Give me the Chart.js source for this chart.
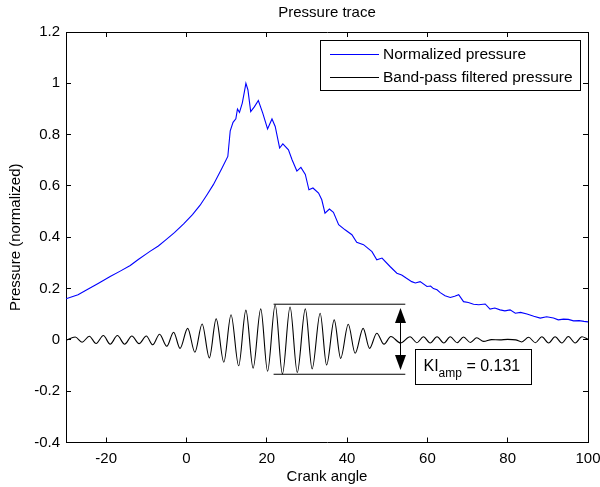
<!DOCTYPE html>
<html><head><meta charset="utf-8">
<script src="https://cdn.jsdelivr.net/npm/chart.js@4/dist/chart.umd.min.js"></script>
<style>html,body{margin:0;padding:0;background:#fff;}</style>
</head><body>
<canvas id="c" width="600" height="487"></canvas>
<script>
const chartTitle = 'Pressure trace';
const xLabel = 'Crank angle';
const yLabel = 'Pressure (normalized)';
const seriesNames = ['Normalized pressure', 'Band-pass filtered pressure'];
const xTicks = [-20, 0, 20, 40, 60, 80, 100];
const xTickLabels = ['-20', '0', '20', '40', '60', '80', '100'];
const yTicks = [-0.4, -0.2, 0, 0.2, 0.4, 0.6, 0.8, 1, 1.2];
const yTickLabels = ['-0.4', '-0.2', '0', '0.2', '0.4', '0.6', '0.8', '1', '1.2'];

const pressureAngle = [-30,-27,-24.8,-22,-19,-16.5,-14,-12,-9.9,-9,
  -7,-5.3,-3,-0.7,1.5,3.4,5,6.7,8.8,10.3,
  10.9,11.6,12.3,12.7,13.2,13.9,14.4,14.8,15.3,16.0,
  16.9,17.9,19.0,20.2,21.3,22.1,23.2,24.0,25.4,26.3,
  27.5,28.5,29.6,30.5,31.5,32.9,33.7,34.5,35.6,36.6,
  37.9,39.5,41.2,42.4,44.1,46.2,47.4,48.7,50.7,52.4,
  53.6,54.8,56.1,57.0,58.2,59.9,60.8,61.5,62.4,63.2,
  64.4,65.7,66.8,67.8,69.0,70.2,71.5,72.8,74.4,75.6,
  76.8,78.1,79.3,80.6,81.9,83.2,84.8,86.5,88.1,89.7,
  91.4,92.6,93.9,95.1,96.4,97.8,99.0,100];
const pressureValue = [0.160,0.176,0.195,0.220,0.247,0.268,0.290,0.313,0.336,0.346,
  0.366,0.388,0.418,0.452,0.488,0.525,0.563,0.605,0.668,0.715,
  0.815,0.848,0.862,0.900,0.887,0.923,0.965,1.000,0.975,0.890,
  0.908,0.933,0.884,0.822,0.861,0.832,0.748,0.764,0.741,0.702,
  0.658,0.672,0.645,0.585,0.592,0.572,0.546,0.494,0.510,0.497,
  0.449,0.429,0.410,0.380,0.371,0.344,0.312,0.319,0.286,0.260,
  0.253,0.240,0.227,0.222,0.227,0.208,0.210,0.200,0.195,0.184,
  0.172,0.165,0.170,0.176,0.149,0.146,0.139,0.137,0.140,0.120,
  0.124,0.117,0.113,0.117,0.104,0.107,0.101,0.092,0.085,0.090,
  0.085,0.078,0.081,0.080,0.074,0.075,0.072,0.070];

const filteredAngle = [-30,-27.7,-26.0,-24.2,-22.5,-20.7,-19.0,-17.2,-15.4,-13.6,
  -11.8,-10.0,-8.4,-6.7,-4.9,-3.2,-1.6,0.3,2.1,3.9,
  5.7,7.4,9.3,11.1,13.0,14.8,16.6,18.5,20.2,22.1,
  23.9,25.8,27.6,29.6,31.3,33.3,34.9,36.8,38.4,40.3,
  42.0,44.0,45.6,47.4,49.2,50.9,53.3,55.7,57.4,59.0,
  60.7,62.4,64.1,65.7,67.4,69.0,70.7,72.3,74.0,76.0,
  78.0,80.0,82.0,83.5,85.2,86.9,88.5,90.2,91.8,93.5,
  95.1,96.8,98.5,100];
const filteredValue = [-0.002,0.011,-0.009,0.014,-0.014,0.017,-0.017,0.017,-0.017,0.015,
  -0.015,0.015,-0.019,0.022,-0.025,0.030,-0.033,0.045,-0.048,0.062,
  -0.070,0.082,-0.087,0.098,-0.101,0.116,-0.110,0.121,-0.122,0.137,
  -0.133,0.128,-0.127,0.121,-0.113,0.104,-0.098,0.078,-0.072,0.061,
  -0.052,0.045,-0.033,0.026,-0.017,0.013,-0.012,0.012,-0.011,0.012,
  -0.012,0.012,-0.012,0.012,-0.011,0.011,-0.010,0.008,-0.006,0.001,
  0.000,0.002,0.000,-0.008,0.010,-0.011,0.012,-0.012,0.012,-0.012,
  0.013,-0.012,0.012,0.002];

const kiAmp = 0.131;
const bandAngle = [21.7, 54.5];
const bandUpper = 0.139;
const bandLower = -0.134;
const arrowAngle = 53.1;
const arrowEnds = [0.124, -0.117];
const kiBoxCorner = [56.8, -0.035];

const FONT = "'Liberation Sans', Arial, Helvetica, sans-serif";
Chart.defaults.font.family = FONT;
Chart.defaults.color = '#000';

const pts = (xs, ys) => xs.map((x, i) => ({x: x, y: ys[i]}));

const decor = {
  id: 'decor',
  afterDatasetsDraw(chart) {
    const ctx = chart.ctx, ca = chart.chartArea;
    const xs = chart.scales.x, ys = chart.scales.y;
    ctx.save();
    // legend
    const bw = 260, bh = 50;
    const bx = Math.round(ca.right - 8 - bw) + 0.5;
    const by = Math.round(ca.top + 8) + 0.5;
    ctx.fillStyle = '#fff';
    ctx.fillRect(bx, by, bw, bh);
    ctx.strokeStyle = '#000';
    ctx.lineWidth = 1;
    ctx.strokeRect(bx, by, bw, bh);
    const colors = [chart.data.datasets[0].borderColor, chart.data.datasets[1].borderColor];
    const rows = [by + 14, by + 37];
    ctx.font = '15.5px ' + FONT;
    ctx.textBaseline = 'middle';
    ctx.textAlign = 'left';
    for (let i = 0; i < 2; i++) {
      ctx.beginPath();
      ctx.strokeStyle = colors[i];
      ctx.moveTo(bx + 9.5, rows[i]);
      ctx.lineTo(bx + 58.5, rows[i]);
      ctx.stroke();
      ctx.fillStyle = '#000';
      ctx.fillText(seriesNames[i], bx + 62.5, rows[i] + 0.5);
    }
    // double arrow
    const ax = Math.round(xs.getPixelForValue(arrowAngle)) + 0.5;
    const at = ys.getPixelForValue(arrowEnds[0]);
    const ab = ys.getPixelForValue(arrowEnds[1]);
    ctx.strokeStyle = '#000';
    ctx.fillStyle = '#000';
    ctx.beginPath();
    ctx.moveTo(ax, at + 4); ctx.lineTo(ax, ab - 4); ctx.stroke();
    const hl = 15, hw = 5.5;
    ctx.beginPath();
    ctx.moveTo(ax, at); ctx.lineTo(ax - hw, at + hl); ctx.lineTo(ax + hw, at + hl); ctx.closePath(); ctx.fill();
    ctx.beginPath();
    ctx.moveTo(ax, ab); ctx.lineTo(ax - hw, ab - hl); ctx.lineTo(ax + hw, ab - hl); ctx.closePath(); ctx.fill();
    // KI box
    const kx = Math.round(xs.getPixelForValue(kiBoxCorner[0])) + 0.5;
    const ky = Math.round(ys.getPixelForValue(kiBoxCorner[1])) + 0.5;
    const kw = 116, kh = 35;
    ctx.fillStyle = '#fff';
    ctx.fillRect(kx, ky, kw, kh);
    ctx.strokeStyle = '#000';
    ctx.strokeRect(kx, ky, kw, kh);
    ctx.fillStyle = '#000';
    ctx.textBaseline = 'alphabetic';
    ctx.font = '16px ' + FONT;
    let tx = kx + 8;
    const base = ky + 21.5;
    ctx.fillText('KI', tx, base);
    tx += ctx.measureText('KI').width;
    ctx.font = '12px ' + FONT;
    ctx.fillText('amp', tx, base + 6);
    tx += ctx.measureText('amp').width;
    ctx.font = '16px ' + FONT;
    ctx.fillText(' = ' + kiAmp.toFixed(3), tx, base);
    ctx.restore();
  }
};

const tickFont = {size: 15, family: FONT};
const gridOpts = {drawOnChartArea: false, drawTicks: true, tickLength: -5, color: '#000', lineWidth: 1};
const borderOpts = {display: true, color: '#000', width: 1};

function setTicks(list) {
  return function(scale) { scale.ticks = list.map(v => ({value: v})); };
}

new Chart(document.getElementById('c'), {
  type: 'line',
  data: {
    datasets: [
      {label: seriesNames[0], data: pts(pressureAngle, pressureValue), borderColor: '#0000ff', borderWidth: 1.1, pointRadius: 0, tension: 0, fill: false},
      {label: seriesNames[1], data: pts(filteredAngle, filteredValue), borderColor: '#000000', borderWidth: 1.1, pointRadius: 0, cubicInterpolationMode: 'monotone', fill: false},
      {label: 'upper', data: [{x: bandAngle[0], y: bandUpper}, {x: bandAngle[1], y: bandUpper}], borderColor: '#000', borderWidth: 1, pointRadius: 0},
      {label: 'lower', data: [{x: bandAngle[0], y: bandLower}, {x: bandAngle[1], y: bandLower}], borderColor: '#000', borderWidth: 1, pointRadius: 0}
    ]
  },
  options: {
    responsive: false,
    animation: false,
    devicePixelRatio: 1,
    layout: {padding: 0},
    plugins: {
      legend: {display: false},
      tooltip: {enabled: false},
      title: {display: true, text: chartTitle, fullSize: false, color: '#000', font: {size: 15, weight: 'normal', family: FONT}, padding: {top: 4, bottom: 10}}
    },
    scales: {
      x: {
        type: 'linear', position: 'bottom', min: -30, max: 100,
        afterBuildTicks: setTicks(xTicks),
        ticks: {font: tickFont, color: '#000', padding: 12, maxRotation: 0, autoSkip: false,
          callback: v => { const i = xTicks.indexOf(v); return i >= 0 ? xTickLabels[i] : ''; }},
        grid: gridOpts, border: borderOpts,
        title: {display: true, text: xLabel, color: '#000', font: {size: 15, family: FONT}, padding: {top: 0, bottom: 1}},
        afterFit: s => { s.height = 44.5; s.paddingLeft = 0; s.paddingRight = 0; }
      },
      x2: {
        type: 'linear', position: 'top', min: -30, max: 100,
        afterBuildTicks: setTicks(xTicks),
        ticks: {display: false},
        grid: gridOpts, border: borderOpts,
        afterFit: s => { s.height = 0; s.paddingLeft = 0; s.paddingRight = 0; }
      },
      y: {
        type: 'linear', position: 'left', min: -0.4, max: 1.2,
        afterBuildTicks: setTicks(yTicks),
        ticks: {font: tickFont, color: '#000', padding: 11, autoSkip: false,
          callback: v => { const i = yTicks.findIndex(t => Math.abs(t - v) < 1e-9); return i >= 0 ? yTickLabels[i] : ''; }},
        grid: gridOpts, border: borderOpts,
        title: {display: true, text: yLabel, color: '#000', font: {size: 15, family: FONT}, padding: {top: 7, bottom: 0}},
        afterFit: s => { s.width = 66; s.paddingTop = 0; s.paddingBottom = 0; }
      },
      y2: {
        type: 'linear', position: 'right', min: -0.4, max: 1.2,
        afterBuildTicks: setTicks(yTicks),
        ticks: {display: false},
        grid: gridOpts, border: borderOpts,
        afterFit: s => { s.width = 12; s.paddingTop = 0; s.paddingBottom = 0; }
      }
    }
  },
  plugins: [decor]
});
</script>
</body></html>
